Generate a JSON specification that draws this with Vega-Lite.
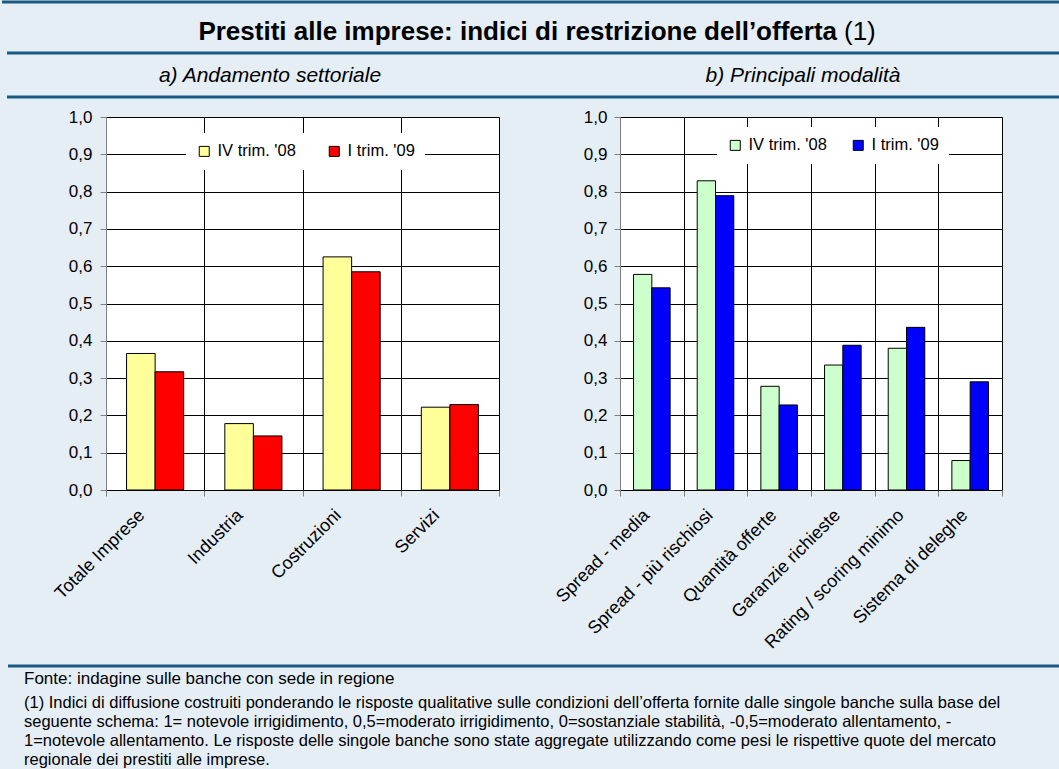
{
  "$schema": "https://vega.github.io/schema/vega-lite/v6.json",
  "background": "#e5edf5",
  "padding": 0,
  "spacing": 0,
  "config": {
    "font": "Liberation Sans",
    "view": {"stroke": null}
  },
  "vconcat": [
    {
      "width": 955,
      "height": 106,
      "view": {"stroke": null, "fill": "#e5edf5"},
      "data": {"values": [{"bold": "Prestiti alle imprese: indici di restrizione dell’offerta", "note": "(1)", "a": "a) Andamento settoriale", "b": "b) Principali modalità"}]},
      "layer": [
        {"mark": {"type": "rule", "strokeWidth": 3, "color": "#195a83"}, "encoding": {"x": {"value": -104}, "x2": {"value": 955}, "y": {"value": 1}}},
        {"mark": {"type": "rule", "strokeWidth": 3, "color": "#195a83"}, "encoding": {"x": {"value": -99}, "x2": {"value": 955}, "y": {"value": 52}}},
        {"mark": {"type": "rule", "strokeWidth": 3, "color": "#195a83"}, "encoding": {"x": {"value": -99}, "x2": {"value": 955}, "y": {"value": 96}}},
        {"mark": {"type": "text", "align": "right", "baseline": "middle", "fontSize": 26, "fontWeight": "bold", "color": "black"}, "encoding": {"text": {"field": "bold"}, "x": {"value": 731}, "y": {"value": 31}}},
        {"mark": {"type": "text", "align": "left", "baseline": "middle", "fontSize": 26, "color": "black"}, "encoding": {"text": {"field": "note"}, "x": {"value": 738}, "y": {"value": 31}}},
        {"mark": {"type": "text", "align": "center", "baseline": "middle", "fontSize": 21, "fontStyle": "italic", "color": "black"}, "encoding": {"text": {"field": "a"}, "x": {"value": 164}, "y": {"value": 75}}},
        {"mark": {"type": "text", "align": "center", "baseline": "middle", "fontSize": 21, "fontStyle": "italic", "color": "black"}, "encoding": {"text": {"field": "b"}, "x": {"value": 697}, "y": {"value": 75}}}
      ]
    },
    {
      "hconcat": [
        {
          "width": 393,
          "height": 373,
          "view": {"stroke": "#808080", "fill": "white"},
          "data": {"values": [
            {"settore": "Totale Imprese", "periodo": "IV trim. '08", "valore": 0.366},
            {"settore": "Totale Imprese", "periodo": "I trim. '09", "valore": 0.317},
            {"settore": "Industria", "periodo": "IV trim. '08", "valore": 0.178},
            {"settore": "Industria", "periodo": "I trim. '09", "valore": 0.145},
            {"settore": "Costruzioni", "periodo": "IV trim. '08", "valore": 0.625},
            {"settore": "Costruzioni", "periodo": "I trim. '09", "valore": 0.585},
            {"settore": "Servizi", "periodo": "IV trim. '08", "valore": 0.222},
            {"settore": "Servizi", "periodo": "I trim. '09", "valore": 0.229}
          ]},
          "mark": {"type": "bar", "stroke": "black", "strokeWidth": 1},
          "encoding": {
            "x": {"field": "settore", "type": "nominal", "sort": null, "scale": {"paddingInner": 0, "paddingOuter": 0},
              "axis": {"title": null, "labelAngle": -45, "labelAlign": "right", "labelBaseline": "top", "labelFontSize": 18, "labelColor": "black", "labelLimit": 0, "labelPadding": 10, "labelOffset": -20, "tickBand": "extent", "grid": true, "gridColor": "black", "gridOpacity": 1, "ticks": true, "tickSize": 6, "tickColor": "#808080", "domainColor": "#000000"}},
            "xOffset": {"field": "periodo", "type": "nominal", "sort": null, "scale": {"paddingOuter": 0.72, "paddingInner": 0}},
            "y": {"field": "valore", "type": "quantitative", "scale": {"domain": [0, 1], "nice": false},
              "axis": {"values": [0, 0.1, 0.2, 0.3, 0.4, 0.5, 0.6, 0.7, 0.8, 0.9, 1], "labelExpr": "replace(format(datum.value, '.1f'), '.', ',')", "title": null, "grid": true, "gridColor": "black", "gridOpacity": 1, "tickSize": 6, "tickColor": "#808080", "domainColor": "#808080", "labelFontSize": 17, "labelPadding": 8, "labelColor": "black"}},
            "fill": {"field": "periodo", "type": "nominal", "sort": null,
              "scale": {"domain": ["IV trim. '08", "I trim. '09"], "range": ["#ffff99", "#ff0000"]},
              "legend": {"title": null, "orient": "none", "legendX": 80, "legendY": 16, "direction": "horizontal", "fillColor": "white", "padding": 10, "symbolType": "square", "symbolSize": 100, "symbolStrokeColor": "black", "symbolStrokeWidth": 1, "symbolOpacity": 1, "labelFontSize": 16.5, "labelColor": "black", "labelOffset": 5, "columnPadding": 30}}
          }
        },
        {
          "width": 382,
          "height": 373,
          "view": {"stroke": "#808080", "fill": "white"},
          "data": {"values": [
            {"voce": "Spread - media", "periodo": "IV trim. '08", "valore": 0.578},
            {"voce": "Spread - media", "periodo": "I trim. '09", "valore": 0.542},
            {"voce": "Spread - più rischiosi", "periodo": "IV trim. '08", "valore": 0.829},
            {"voce": "Spread - più rischiosi", "periodo": "I trim. '09", "valore": 0.789},
            {"voce": "Quantità offerte", "periodo": "IV trim. '08", "valore": 0.278},
            {"voce": "Quantità offerte", "periodo": "I trim. '09", "valore": 0.228},
            {"voce": "Garanzie richieste", "periodo": "IV trim. '08", "valore": 0.335},
            {"voce": "Garanzie richieste", "periodo": "I trim. '09", "valore": 0.388},
            {"voce": "Rating / scoring minimo", "periodo": "IV trim. '08", "valore": 0.38},
            {"voce": "Rating / scoring minimo", "periodo": "I trim. '09", "valore": 0.436},
            {"voce": "Sistema di deleghe", "periodo": "IV trim. '08", "valore": 0.079},
            {"voce": "Sistema di deleghe", "periodo": "I trim. '09", "valore": 0.29}
          ]},
          "mark": {"type": "bar", "stroke": "black", "strokeWidth": 1},
          "encoding": {
            "x": {"field": "voce", "type": "nominal", "sort": null, "scale": {"paddingInner": 0, "paddingOuter": 0},
              "axis": {"title": null, "labelAngle": -45, "labelAlign": "right", "labelBaseline": "top", "labelFontSize": 18, "labelColor": "black", "labelLimit": 0, "labelPadding": 10, "labelOffset": -12, "tickBand": "extent", "grid": true, "gridColor": "black", "gridOpacity": 1, "ticks": true, "tickSize": 6, "tickColor": "#808080", "domainColor": "#000000"}},
            "xOffset": {"field": "periodo", "type": "nominal", "sort": null, "scale": {"paddingOuter": 0.74, "paddingInner": 0}},
            "y": {"field": "valore", "type": "quantitative", "scale": {"domain": [0, 1], "nice": false},
              "axis": {"values": [0, 0.1, 0.2, 0.3, 0.4, 0.5, 0.6, 0.7, 0.8, 0.9, 1], "labelExpr": "replace(format(datum.value, '.1f'), '.', ',')", "title": null, "grid": true, "gridColor": "black", "gridOpacity": 1, "tickSize": 6, "tickColor": "#808080", "domainColor": "#808080", "labelFontSize": 17, "labelPadding": 7, "labelColor": "black"}},
            "fill": {"field": "periodo", "type": "nominal", "sort": null,
              "scale": {"domain": ["IV trim. '08", "I trim. '09"], "range": ["#ccffcc", "#0000ff"]},
              "legend": {"title": null, "orient": "none", "legendX": 97, "legendY": 10, "direction": "horizontal", "fillColor": "white", "padding": 10, "symbolType": "square", "symbolSize": 100, "symbolStrokeColor": "black", "symbolStrokeWidth": 1, "symbolOpacity": 1, "labelFontSize": 16.5, "labelColor": "black", "labelOffset": 5, "columnPadding": 23}}
          }
        }
      ],
      "bounds": "flush",
      "spacing": 121,
      "resolve": {"scale": {"fill": "independent", "xOffset": "independent", "x": "independent"}, "legend": {"fill": "independent"}}
    },
    {
      "width": 955,
      "height": 115,
      "view": {"stroke": null, "fill": "#e5edf5"},
      "data": {"values": [{
        "fonte": "Fonte: indagine sulle banche con sede in regione",
        "l1": "(1) Indici di diffusione costruiti ponderando le risposte qualitative sulle condizioni dell’offerta fornite dalle singole banche sulla base del",
        "l2": "seguente schema: 1= notevole irrigidimento, 0,5=moderato irrigidimento, 0=sostanziale stabilità, -0,5=moderato allentamento, -",
        "l3": "1=notevole allentamento. Le risposte delle singole banche sono state aggregate utilizzando come pesi le rispettive quote del mercato",
        "l4": "regionale dei prestiti alle imprese."
      }]},
      "layer": [
        {"mark": {"type": "rule", "strokeWidth": 3, "color": "#195a83"}, "encoding": {"x": {"value": -98}, "x2": {"value": 955}, "y": {"value": 13}}},
        {"mark": {"type": "text", "align": "left", "baseline": "middle", "fontSize": 17, "color": "black"}, "encoding": {"text": {"field": "fonte"}, "x": {"value": -82}, "y": {"value": 26}}},
        {"mark": {"type": "text", "align": "left", "baseline": "middle", "fontSize": 16.5, "color": "black"}, "encoding": {"text": {"field": "l1"}, "x": {"value": -82}, "y": {"value": 50}}},
        {"mark": {"type": "text", "align": "left", "baseline": "middle", "fontSize": 16.5, "color": "black"}, "encoding": {"text": {"field": "l2"}, "x": {"value": -82}, "y": {"value": 69}}},
        {"mark": {"type": "text", "align": "left", "baseline": "middle", "fontSize": 16.5, "color": "black"}, "encoding": {"text": {"field": "l3"}, "x": {"value": -82}, "y": {"value": 88}}},
        {"mark": {"type": "text", "align": "left", "baseline": "middle", "fontSize": 16.5, "color": "black"}, "encoding": {"text": {"field": "l4"}, "x": {"value": -82}, "y": {"value": 107}}}
      ]
    }
  ]
}
